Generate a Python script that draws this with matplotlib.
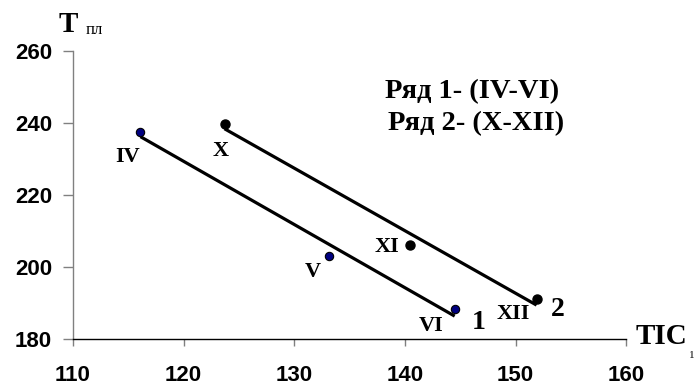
import numpy as np
import matplotlib
matplotlib.use("Agg")
import matplotlib.pyplot as plt

# Data
tic_1 = [116.1, 133.1, 144.5]
tpl_1 = [237.5, 203.1, 188.3]
labels_1 = ["IV", "V", "VI"]
tic_2 = [123.7, 140.5, 151.9]
tpl_2 = [239.6, 206.2, 191.2]
labels_2 = ["X", "XI", "XII"]
xticks = [110, 120, 130, 140, 150, 160]
yticks = [180, 200, 220, 240, 260]

fig = plt.figure(figsize=(6.95, 3.86), dpi=100)
ax = fig.add_axes([0.105, 0.1218, 0.796, 0.7462])

serif = "Liberation Serif"
sans = "Liberation Sans"

# trend lines
for xs, ys in [(tic_1, tpl_1), (tic_2, tpl_2)]:
    k, b = np.polyfit(xs, ys, 1)
    xx = np.array([min(xs), max(xs)])
    ax.plot(xx, k * xx + b, color="black", lw=2.3, solid_capstyle="butt", zorder=2)

ax.plot(tic_1, tpl_1, "o", ms=6, mfc="#000080", mec="black", mew=0.8, zorder=3)
ax.plot(tic_2, tpl_2, "o", ms=6.5, mfc="black", mec="black", zorder=3)

# point labels (offsets in points)
offs_1 = [(-9, -18), (-11, -12), (-17, -12)]
offs_2 = [(-3, -19), (-17, -2), (-17, -11)]
for xs, ys, labs, offs in [(tic_1, tpl_1, labels_1, offs_1), (tic_2, tpl_2, labels_2, offs_2)]:
    for x, y, t, o in zip(xs, ys, labs, offs):
        ax.annotate(t, (x, y), xytext=o, textcoords="offset points",
                    ha="center", va="center", fontsize=16, fontweight="bold",
                    family=serif)

ax.annotate("1", (tic_1[-1], tpl_1[-1]), xytext=(17, -10), textcoords="offset points",
            ha="center", va="center", fontsize=20, fontweight="bold", family=serif)
ax.annotate("2", (tic_2[-1], tpl_2[-1]), xytext=(15, -8), textcoords="offset points",
            ha="center", va="center", fontsize=20, fontweight="bold", family=serif)

fig.text(472 / 695, 1 - 92 / 386, "Ряд 1- (IV-VI)", ha="center", va="center",
         fontsize=20.5, fontweight="bold", family=serif)
fig.text(476 / 695, 1 - 124 / 386, "Ряд 2- (X-XII)", ha="center", va="center",
         fontsize=20.5, fontweight="bold", family=serif)

# axis titles
fig.text(59 / 695, 1 - 24 / 386, "T", ha="left", va="center", fontsize=21,
         fontweight="bold", family=serif)
fig.text(86 / 695, 1 - 30 / 386, "пл", ha="left", va="center", fontsize=12,
         family=serif)
fig.text(636 / 695, 1 - 336 / 386, "TIC", ha="left", va="center", fontsize=21,
         fontweight="bold", family=serif)
fig.text(689 / 695, 1 - 356 / 386, "1", ha="left", va="center", fontsize=8,
         family=serif)

ax.set_xlim(110, 160)
ax.set_ylim(180, 260)
ax.set_xticks(xticks)
ax.set_yticks(yticks)
for lab in ax.get_xticklabels() + ax.get_yticklabels():
    lab.set_fontfamily(sans)
    lab.set_fontweight("bold")
    lab.set_fontsize(16)
ax.tick_params(axis="both", direction="out", width=1, colors="#808080")
ax.tick_params(axis="both", labelcolor="black")
ax.tick_params(axis="x", length=5, pad=14)
ax.tick_params(axis="y", length=7, pad=8)
ax.spines["top"].set_visible(False)
ax.spines["right"].set_visible(False)
ax.spines["left"].set_color("#808080")
ax.spines["bottom"].set_color("black")
ax.spines["left"].set_linewidth(1)
ax.spines["bottom"].set_linewidth(1)
ax.set_facecolor("none")

fig.savefig("out.png", dpi=100, facecolor="white")
